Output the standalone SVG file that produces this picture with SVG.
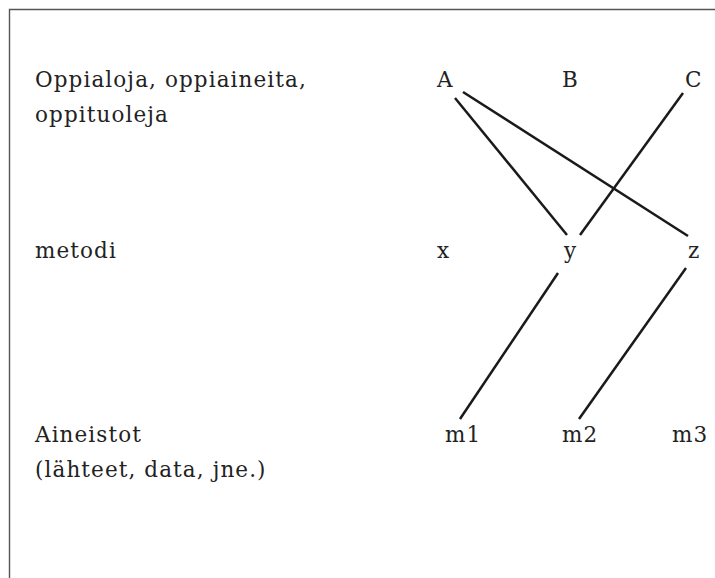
<svg xmlns="http://www.w3.org/2000/svg" width="715" height="578" viewBox="0 0 715 578">
<style>
.t{font-family:"DejaVu Serif","Liberation Serif",serif;font-size:21.5px;letter-spacing:1.1px;fill:#222}
.c{stroke:#1a1a1a;stroke-width:2.5;fill:none}
</style>
<rect width="715" height="578" fill="#fff"/>
<path d="M9.5,578 V9.5 H715" fill="none" stroke="#555" stroke-width="1.4"/>
<g id="row-labels">
<g id="label-top"><text class="t" x="35" y="87">Oppialoja, oppiaineita,</text><text class="t" x="35" y="122">oppituoleja</text></g>
<g id="label-mid"><text class="t" x="35" y="258">metodi</text></g>
<g id="label-bot"><text class="t" x="35" y="442">Aineistot</text><text class="t" x="35" y="477">(lähteet, data, jne.)</text></g>
</g>
<g id="A"><text class="t" x="437" y="87">A</text></g>
<g id="B"><text class="t" x="562" y="87">B</text></g>
<g id="C"><text class="t" x="685" y="87">C</text></g>
<g id="x"><text class="t" x="437" y="258">x</text></g>
<g id="y"><text class="t" x="564" y="258">y</text></g>
<g id="z"><text class="t" x="688" y="258">z</text></g>
<g id="m1"><text class="t" x="445" y="442">m1</text></g>
<g id="m2"><text class="t" x="562" y="442">m2</text></g>
<g id="m3"><text class="t" x="672" y="442">m3</text></g>
<g id="connectors">
<line class="c" x1="455" y1="98" x2="567" y2="235"/>
<line class="c" x1="463" y1="92" x2="688" y2="236"/>
<line class="c" x1="683" y1="93" x2="580" y2="235"/>
<line class="c" x1="558" y1="273" x2="460" y2="419"/>
<line class="c" x1="686" y1="268" x2="579" y2="419"/>
</g>
</svg>
